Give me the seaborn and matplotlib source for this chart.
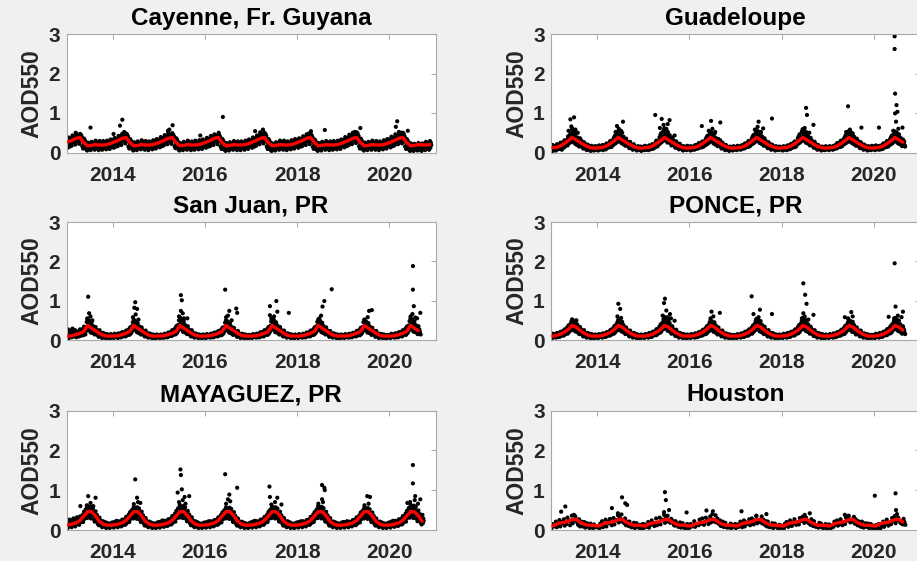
import numpy as np
import pandas as pd
import matplotlib
matplotlib.use("Agg")
import matplotlib.pyplot as plt
import seaborn as sns

# ---------------- data ----------------
TITLES = ["Cayenne, Fr. Guyana", "Guadeloupe", "San Juan, PR", "PONCE, PR", "MAYAGUEZ, PR", "Houston"]
XTICKS = [2014, 2016, 2018, 2020]
YTICKS = [0, 1, 2, 3]

# monthly climatology (red curve), Jan..Dec
CLIM_CAYENNE = [0.27, 0.31, 0.36, 0.38, 0.25, 0.17, 0.18, 0.20, 0.19, 0.19, 0.20, 0.23]
CLIM_GUADELOUPE = [0.12, 0.13, 0.17, 0.23, 0.30, 0.38, 0.32, 0.26, 0.20, 0.15, 0.12, 0.11]
CLIM_SANJUAN = [0.10, 0.11, 0.14, 0.17, 0.22, 0.37, 0.30, 0.24, 0.17, 0.12, 0.10, 0.10]
CLIM_PONCE = [0.10, 0.12, 0.15, 0.20, 0.27, 0.37, 0.33, 0.25, 0.18, 0.13, 0.10, 0.10]
CLIM_MAYAGUEZ = [0.13, 0.15, 0.18, 0.24, 0.35, 0.46, 0.46, 0.36, 0.22, 0.15, 0.12, 0.12]
CLIM_HOUSTON = [0.10, 0.15, 0.18, 0.19, 0.22, 0.26, 0.27, 0.20, 0.15, 0.12, 0.12, 0.11]
CLIM_MONTHS = [95, 92, 92, 92, 93, 92]      # months drawn for each red curve

# AOD550 x100; one row per year 2013..2020; "-" = no observation
SAMPLES_PER_YEAR = [104, 104, 104, 104, 104, 52]

AOD_CAYENNE = """
18 31 12 26 38 21 34 15 29  22 36 17 30 43 25 39 28  26 41 20 35 48 29 44 31 38  28 43 22 37 47 30 45 33 40  16 29 10 24 35 18 31 13 26  8 19 5 14 25 10 21 16  9 21 6 15 27 11 23 17 13  11 24 7 18 30 13 26 19 15  10 22 6 17 29 12 25 19  10 23 7 17 29 12 24 19 14  11 24 8 18 30 13 26 20  14 28 9 21 33 16 29 23 18
17 31 12 25 37 20 33 15 28  21 35 16 29 42 24 38 27  25 40 19 34 47 28 43 30 37  29 44 23 38 48 31 46 34 41  15 28 10 23 34 17 30 12 25  9 20 5 15 26 11 22 17  10 22 6 16 28 12 24 18 14  12 25 8 19 31 14 27 20 16  11 23 7 18 29 13 25 19  10 22 6 17 28 12 24 18 14  12 25 8 19 31 14 27 21  15 29 10 22 34 17 30 24 19
19 32 13 27 39 22 35 16 30  23 37 18 31 44 26 40 29  27 42 21 36 50 30 46 33 39  28 44 22 37 49 31 45 34 41  16 30 11 25 36 19 32 14 27  8 18 5 13 24 10 20 15  10 21 6 16 27 12 23 17 13  11 24 7 18 30 13 26 19 15  10 23 6 17 28 12 25 18  11 24 7 18 30 13 25 20 15  12 25 8 19 31 14 26 21  14 28 9 21 33 16 29 23 18
18 30 12 25 37 21 33 15 28  21 35 16 29 42 24 38 27  25 39 19 34 46 28 42 30 37  27 42 21 36 46 29 44 32 39  15 28 9 23 34 17 30 12 25  7 18 4 13 24 9 20 15  9 20 5 15 26 11 22 16 12  11 23 7 17 29 13 25 18 14  10 22 6 16 28 12 24 18  10 22 6 17 28 12 24 18 14  11 24 7 18 30 13 26 20  14 27 9 21 33 16 29 22 18
18 31 12 26 38 21 34 15 29  22 36 17 30 43 25 39 28  27 42 21 36 51 30 46 33 40  29 45 23 39 50 32 47 35 42  15 28 9 23 34 17 30 12 25  6 17 4 12 23 9 19 14  8 20 5 14 26 10 22 16 12  11 24 7 18 30 13 26 19 15  11 23 7 18 30 13 25 19  10 22 6 16 28 12 24 18 14  12 25 8 19 31 14 27 21  15 28 10 22 34 17 30 23 19
17 30 12 25 36 20 33 15 28  21 34 16 28 41 24 37 27  25 39 19 33 46 28 42 30 36  27 43 21 36 47 30 44 32 39  14 27 9 22 33 16 29 12 24  7 18 4 13 24 9 20 15  9 21 5 15 27 11 23 17 13  11 23 7 17 29 13 25 18 14  10 22 6 17 28 12 24 18  10 23 7 17 29 12 24 19 14  11 24 8 18 30 13 26 20  14 28 9 21 33 16 29 23 18
19 32 13 27 39 22 35 16 30  23 37 18 31 45 26 41 29  27 42 21 36 50 30 45 32 39  30 46 24 39 51 32 48 35 42  16 29 10 24 35 18 31 13 26  8 19 5 14 25 10 21 16  9 21 6 15 27 11 23 17 13  11 24 7 18 30 13 26 19 15  11 23 7 18 29 13 25 19  10 22 6 17 28 12 24 18 14  12 25 8 19 31 14 27 21  15 29 10 22 34 17 31 24 19
19 33 13 27 40 22 36 16 30  23 38 18 32 46 26 42 29  27 43 21 37 52 30 47 33 40  29 45 23 38 50 31 47 34 41  15 28 9 23 34 17 30 12 25  7 17 4 12 23 9 19 14  6 16 4 11 22 8 18 13 10  8 19 5 13 24 10 21 15 12  7 18 4 12 23 9 20 14  9 21 6 15 27 11 23 17 13  10 23 7 17 29 12 25 19
"""

AOD_GUADELOUPE = """
6 14 9 19 4 11 16 8 13  10 17 5 13 21 8 12 15  12 20 9 16 25 11 18 7 14  17 26 12 22 31 15 24 19 28  22 33 18 41 27 36 24 45 30  31 49 26 58 38 44 29 52  27 41 22 35 48 30 19 38 26  21 32 15 27 36 19 24 30 17  14 23 10 19 26 12 17 21  9 16 6 13 20 8 11 17 10  7 13 4 10 17 9 12 6  8 14 5 11 16 7 12 9 15
9 15 5 12 18 7 13 10 16  8 14 11 19 6 12 16 9  13 19 8 16 23 11 17 14 21  16 24 13 29 19 22 14 27 18  25 34 20 39 28 43 23 31 36  33 47 27 54 39 30 45 36  29 42 24 37 50 31 21 40 33  22 30 17 26 35 20 28 18 24  15 22 11 18 27 13 20 16  10 17 7 14 21 9 12 16 11  8 12 5 14 10 16 7 11  7 13 9 15 4 11 14 8 12
10 14 6 17 9 12 15 7 11  9 15 6 12 18 10 13 8  12 18 9 21 14 16 10 19 13  18 25 14 30 20 23 16 28 21  27 38 22 44 31 49 26 35 40  36 55 30 61 42 48 33 57  31 46 25 52 36 41 28 44 34  23 33 18 29 38 21 26 31 19  16 24 12 20 28 14 19 22  11 18 8 15 22 10 13 17 12  8 13 5 11 16 9 12 7  9 14 6 12 17 8 11 15 10
8 13 5 16 10 12 7 14 11  10 16 7 13 19 9 12 15  13 20 10 17 24 12 18 15 21  17 25 13 28 20 23 15 26 19  24 33 19 38 27 42 22 30 35  31 46 26 52 37 41 29 49  28 40 23 35 47 30 20 37 32  20 29 16 25 34 19 27 22 31  14 21 10 18 25 12 16 20  10 16 6 13 19 8 12 15 9  7 12 4 10 15 8 13 9  8 13 5 11 16 7 10 14 9
9 14 6 12 17 8 11 15 10  10 15 7 13 18 9 12 16  14 20 10 17 23 12 19 15 22  18 26 14 29 21 24 16 27 20  26 35 21 40 29 44 24 33 37  34 50 28 56 40 45 31 53  29 43 24 38 49 32 22 41 34  22 31 17 27 36 20 25 29 18  15 23 11 19 26 13 18 21  10 17 7 14 20 9 12 16 11  8 13 5 11 16 9 12 7  9 14 6 12 15 8 11 13 10
8 13 5 11 16 7 12 10 14  9 15 6 12 18 10 13 8  13 19 9 16 22 11 17 14 20  17 25 13 28 20 23 15 26 19  27 36 22 41 30 46 25 33 38  35 52 29 59 41 47 32 55  30 44 25 39 51 33 23 42 35  23 32 18 28 37 21 26 30 19  16 23 12 19 27 14 18 21  10 16 7 13 19 9 12 15 11  8 12 5 10 15 9 11 7  9 13 6 11 16 8 12 10 14
9 14 6 12 16 8 11 13 10  10 15 7 12 17 9 13 11  14 20 10 17 24 12 18 15 21  19 26 14 30 21 24 16 28 22  26 35 21 39 29 44 24 32 37  33 49 27 54 39 45 30 51  29 42 24 37 48 31 21 40 33  22 31 17 27 35 20 25 29 18  15 22 11 19 26 13 17 21  11 17 7 14 20 9 13 16 10  8 13 5 11 16 9 12 7  9 14 6 12 17 8 11 15 10
10 15 6 13 18 8 12 16 11  9 14 7 12 17 10 13 8  13 19 9 16 23 11 17 14 20  18 25 14 29 20 23 15 27 21  25 34 20 39 28 43 23 31 36  32 47 27 53 38 43 30 50  28 40 23 35 46 30 21 38 31  21 29 16 25 33 19 24 28 18  15
"""

AOD_SANJUAN = """
6 18 9 27 12 5 22 14 8  11 24 7 16 29 9 19 13  9 17 25 12 21 7 14 19 11  13 22 9 18 27 15 11 24 16  16 28 12 23 34 19 26 14 31  29 46 24 53 35 41 27 49  24 38 19 33 45 27 18 36 29  18 29 14 24 33 17 26 21 15  12 21 8 16 25 11 19 14  8 15 5 12 18 9 13 10 16  6 12 4 9 15 8 11 7  7 12 4 10 15 6 11 9 13
7 12 5 10 16 8 13 9 11  8 14 5 11 17 9 12 7  10 16 7 13 20 9 15 12 18  12 20 9 16 24 11 18 14 21  17 27 13 22 32 16 25 19 35  30 45 25 52 36 42 28 48  25 37 20 32 43 26 18 35 28  19 28 14 23 32 17 25 21 15  12 20 9 16 24 11 18 14  8 14 6 11 17 9 13 10 15  7 11 4 9 14 8 12 6  6 11 4 9 14 7 12 8 10
7 11 5 9 14 8 12 10 6  8 13 6 10 16 9 12 7  10 15 7 12 19 9 14 11 17  13 21 10 17 25 12 19 15 22  18 29 14 24 35 17 27 21 38  33 50 27 58 39 46 30 54  27 40 21 35 47 28 19 38 31  20 30 15 25 35 18 27 22 16  13 21 9 17 25 12 19 15  9 14 6 11 17 8 13 10 15  7 11 5 9 14 8 12 6  7 12 5 10 14 6 11 9 13
7 12 5 10 15 8 13 9 11  8 13 6 11 16 9 12 7  10 16 7 13 19 9 15 11 17  12 20 9 16 23 11 18 14 21  16 26 12 21 31 15 24 18 33  29 44 24 50 34 40 27 47  24 36 19 31 42 25 17 34 28  18 27 13 22 31 16 24 20 14  12 19 8 15 23 10 17 13  8 14 5 11 16 9 12 10 15  6 11 4 9 14 7 12 8  7 11 4 9 13 6 12 8 10
7 12 5 10 15 8 13 9 11  8 14 6 11 16 9 12 7  10 16 7 13 20 9 15 12 18  13 21 9 17 25 12 19 15 22  17 28 13 23 33 16 26 20 36  31 47 26 54 37 43 29 51  26 39 20 34 45 27 19 37 30  19 29 14 24 33 17 26 21 15  12 20 9 16 24 11 18 14  9 14 6 11 17 8 13 10 15  7 11 5 9 14 8 12 6  6 11 4 9 14 7 12 8 10
7 12 5 10 15 8 13 9 11  8 13 6 11 16 9 12 7  10 15 7 13 19 9 14 11 17  12 20 9 16 24 11 18 14 21  17 27 13 22 32 16 25 19 35  30 46 25 52 36 42 28 49  25 38 20 33 44 26 18 36 29  19 28 14 23 32 17 25 21 15  12 20 8 16 23 11 18 13  8 14 6 11 17 9 13 10 15  7 11 4 9 14 8 12 6  6 11 4 9 14 7 12 8 10
7 12 5 10 15 8 13 9 11  8 13 6 11 16 9 12 7  9 15 7 12 18 9 14 11 16  12 19 9 16 23 11 17 14 20  16 26 12 21 31 15 24 18 33  29 45 24 51 35 41 27 47  24 37 19 32 43 26 18 35 28  18 27 13 22 31 16 24 20 14  12 19 8 15 23 10 17 13  8 14 5 11 16 9 12 10 15  7 11 4 9 14 8 12 6  6 11 4 9 13 7 12 8 10
7 12 5 10 16 8 13 9 11  8 14 6 11 17 9 12 7  10 16 7 13 20 9 15 12 18  13 21 9 17 25 12 19 15 22  18 29 13 24 34 17 27 21 37  31 48 26 55 37 44 29 52  26 40 21 35 47 28 20 38 31  20 30 15 25 35 18 27 22 16  14
"""

AOD_PONCE = """
6 12 4 10 16 8 13 9 11  9 15 6 12 18 10 14 8  11 17 8 14 21 10 16 13 19  15 23 11 19 27 14 21 17 25  21 32 16 27 37 20 30 24 40  30 46 25 52 36 42 28 49  27 41 22 36 47 29 20 39 32  20 29 15 25 33 18 27 22 16  13 21 9 17 25 12 19 15  9 15 6 12 18 8 14 11 16  7 12 4 9 15 8 13 6  7 12 5 10 14 6 11 9 13
7 13 5 10 15 8 12 9 14  9 14 6 12 17 10 13 8  11 16 8 14 20 10 15 12 18  15 22 11 18 26 13 20 16 24  21 31 16 26 36 19 29 23 39  30 45 25 51 35 41 28 48  27 40 22 35 46 29 20 38 31  20 28 15 24 32 18 26 22 16  13 20 9 16 24 12 18 14  9 15 6 12 18 8 13 10 16  7 11 4 9 14 8 12 6  6 11 4 9 14 7 12 8 10
7 12 5 10 15 8 13 9 11  9 15 6 12 18 10 14 8  12 17 8 14 21 11 16 13 19  16 24 12 20 28 14 22 18 26  23 34 18 29 40 21 32 26 44  34 52 28 59 40 47 31 55  30 45 24 39 51 32 22 43 35  21 31 16 26 35 19 28 23 17  14 22 10 18 26 12 20 15  9 15 6 12 18 9 14 11 16  7 12 5 9 15 8 13 6  7 12 5 10 14 6 11 9 13
7 12 5 10 15 8 13 9 11  8 14 6 11 17 9 13 7  11 16 8 13 20 10 15 12 18  14 22 11 18 26 13 20 16 23  20 30 15 25 35 18 28 22 38  29 44 24 50 34 40 27 47  26 39 21 34 45 28 19 37 30  19 28 14 23 32 17 25 21 15  13 20 9 16 24 11 18 14  9 14 6 11 17 8 13 10 15  6 11 4 9 14 7 12 8  7 11 4 9 13 6 12 8 10
7 12 5 10 15 8 13 9 11  9 14 6 12 17 10 13 8  11 17 8 14 21 10 16 13 19  15 23 11 19 27 14 21 17 25  21 32 16 27 37 20 30 24 41  31 48 26 54 37 43 29 51  28 41 22 36 48 30 20 39 32  20 29 15 25 34 18 27 22 16  13 21 9 17 25 12 19 15  9 15 6 12 18 8 14 11 16  7 12 4 9 14 8 13 6  6 11 4 9 14 7 12 8 10
7 12 5 10 16 8 13 9 11  9 15 6 12 18 10 14 8  12 17 8 14 21 11 16 13 19  15 23 11 19 27 14 21 17 25  22 33 17 28 38 20 31 25 42  32 49 27 56 38 45 30 53  28 42 23 37 49 31 21 40 33  21 30 16 26 34 19 28 23 17  14 21 10 17 25 12 19 15  9 15 6 12 18 9 14 11 16  7 12 5 9 15 8 13 6  6 11 4 9 14 7 12 8 10
7 12 5 10 15 8 13 9 11  8 14 6 11 17 9 13 7  11 16 8 13 20 10 15 12 18  14 22 11 18 26 13 20 16 24  20 31 15 26 36 19 29 23 39  30 45 25 51 35 41 28 48  27 40 21 35 46 29 20 38 31  19 28 14 24 32 17 26 21 15  13 20 9 16 24 11 18 14  9 14 6 11 17 8 13 10 15  6 11 4 9 14 7 12 8  7 11 4 9 13 6 12 8 10
7 13 5 10 16 8 12 9 14  9 15 6 12 18 10 14 8  12 17 8 14 21 11 16 13 19  16 24 12 20 28 14 22 18 26  22 33 17 28 38 20 31 25 43  32 49 27 56 38 45 30 53  28 42 23 37 49 31 21 40 33  21 30 16 26 35 19 28 23 17  15
"""

AOD_MAYAGUEZ = """
8 16 5 13 21 9 26 11 18  10 19 7 15 24 12 29 14  12 21 9 17 27 14 32 16 23  17 28 13 23 34 19 26 21 31  25 38 20 33 46 28 41 30 52  36 53 30 60 44 49 38 57  35 51 29 58 43 47 37 55 41  27 40 21 35 47 30 24 38 33  16 26 12 21 31 15 24 19  10 18 7 14 22 11 17 13 20  8 14 5 11 18 9 15 12  8 14 5 11 17 9 15 12 19
9 16 6 13 20 10 17 12 23  10 18 7 14 22 11 17 13  13 21 9 17 26 12 20 15 24  18 27 13 22 33 17 25 20 30  26 39 20 33 45 28 40 31 50  35 51 29 58 42 47 36 55  34 50 28 57 42 46 36 54 40  26 39 20 34 46 29 23 37 32  16 25 11 20 30 14 23 18  10 17 7 14 21 11 16 13 19  8 13 5 11 17 9 14 12  8 14 5 11 18 9 15 12 20
9 16 6 13 21 10 18 12 24  11 19 8 15 23 12 18 14  14 22 10 18 27 13 21 16 25  19 29 14 24 35 18 27 22 32  27 41 21 35 48 30 43 33 54  38 55 31 63 45 51 39 59  36 53 30 60 44 49 38 57 42  28 41 22 36 48 31 25 39 34  17 27 12 22 32 16 25 20  10 18 7 14 22 11 17 13 20  8 14 5 11 17 9 15 12  8 13 5 11 17 9 14 12 19
9 15 6 13 20 10 17 12 22  10 18 7 14 22 11 17 13  13 20 9 16 25 12 19 15 23  17 27 13 22 32 16 25 20 29  25 38 19 32 44 27 39 30 49  35 50 29 57 42 46 36 54  34 49 28 56 41 45 35 53 39  26 38 20 33 45 29 23 36 31  15 24 11 20 29 14 22 18  10 17 7 13 21 10 16 12 19  8 13 5 10 17 9 14 11  8 14 5 11 17 9 15 12 19
9 16 6 13 21 10 17 12 23  10 18 7 14 22 11 17 13  13 21 9 17 26 12 20 15 24  18 28 13 23 33 17 26 21 30  26 39 20 34 46 28 40 31 51  36 52 30 59 43 48 37 56  35 50 29 57 42 46 36 54 40  27 39 21 34 46 30 24 37 32  16 25 11 21 30 15 23 19  10 18 7 14 22 11 17 13 20  8 14 5 11 17 9 15 12  8 13 5 11 17 9 14 12 19
9 16 6 13 20 10 17 12 22  10 18 7 14 22 11 17 13  13 20 9 17 25 12 20 15 23  18 27 13 23 33 17 25 20 30  25 39 20 33 45 28 40 31 50  36 53 30 60 43 48 37 57  35 51 29 58 42 47 36 55 41  27 39 21 34 46 30 24 37 32  16 25 11 21 30 15 23 19  10 17 7 14 21 11 16 13 19  8 14 5 11 17 9 15 12  8 14 5 11 18 9 15 12 20
9 15 6 12 20 10 17 12 22  10 17 7 14 21 11 16 13  13 20 9 16 25 12 19 15 23  17 27 12 22 32 16 25 20 29  25 37 19 32 44 27 39 30 48  34 50 29 56 41 46 35 53  33 49 28 55 41 45 35 52 39  26 38 20 33 44 29 23 36 31  15 24 11 20 29 14 22 18  10 17 7 13 21 10 16 12 19  8 13 5 10 17 9 14 11  8 14 5 11 17 9 15 12 19
9 16 6 13 21 10 18 12 23  11 19 8 15 23 12 18 14  14 22 10 18 27 13 21 16 25  19 29 14 24 35 18 27 22 32  27 41 21 35 48 30 43 33 55  38 56 31 64 45 52 39 60  36 54 30 61 44 50 38 58 43  28 42 22 37 49 32 25 40 35  19 30 14 26 38 17 29 23
"""

AOD_HOUSTON = """
4 15 - 9  10 21 7 -  13 25 9 20 -  16 27 11 -  15 31 - 24 12  22 36 17 -  25 34 - 19  13 27 9 - 21  9 - 20 6  7 17 - 12  5 16 10 -  4 14 - 9 7
8 - 4 16  11 22 7 -  12 26 9 - 21  17 28 - 12  19 30 14 - 24  25 37 19 30  27 39 21 -  17 29 12 - 21  10 21 - 7  8 - 18 5  7 17 - 11  5 13 4 - 15
5 14 - 8  9 20 6 -  13 24 - 18 10  15 29 12 -  18 31 14 - 26  24 38 18 31  28 36 21 -  18 28 - 23 13  11 22 15 -  8 - 19 6  8 17 - 5  6 - 15 4 12
6 15 - 9  11 22 8 -  14 - 12 26 18  16 29 - 13  20 31 - 25 15  23 34 19 -  26 - 21 37  19 29 - 15 24  10 - 21 8  8 18 - 6  9 - 6 16  5 13 - 8 15
5 - 14 8  10 21 - 7  13 24 9 - 19  15 - 27 12  17 29 - 14 24  22 35 17 -  24 - 19 34  16 26 - 12 22  9 21 - 7  8 - 17 5  7 16 - 10  5 - 13 4 11
7 - 4 15  11 20 - 8  13 24 - 10 19  16 27 - 13  18 - 14 30 23  23 33 - 18  25 31 - 20  17 - 13 27 21  10 22 - 8  9 - 6 18  8 16 - 5  6 - 15 4 12
5 14 - 4  10 - 8 21  14 - 24 11 19  15 27 - 12  19 - 15 31 24  24 35 - 19  26 - 21 33  16 27 - 12 22  11 - 8 21  9 6 - 17  8 - 16 5  6 15 - 4 11
4 - 12 3  5 15 - 4  10 - 21 8 16  14 26 - 11  18 - 15 30 23  23 35 17 -  25 31 - 20  17 - 14 28 20  13
"""

# higher, isolated values (decimal year, AOD550)
OUT_X_CAYENNE = [2013.20, 2013.52, 2014.02, 2014.16, 2014.21, 2014.25, 2015.20, 2015.23, 2015.30, 2015.90, 2016.30, 2016.39, 2017.09, 2017.20, 2017.26, 2018.25, 2018.30, 2018.60, 2019.25, 2019.37, 2020.14, 2020.17, 2020.25, 2020.40]
OUT_Y_CAYENNE = [0.50, 0.63, 0.47, 0.68, 0.83, 0.52, 0.55, 0.58, 0.69, 0.43, 0.50, 0.90, 0.54, 0.50, 0.58, 0.48, 0.54, 0.57, 0.52, 0.62, 0.65, 0.79, 0.50, 0.55]
OUT_X_GUADELOUPE = [2013.38, 2013.42, 2013.44, 2013.46, 2013.50, 2013.53, 2013.58, 2014.40, 2014.43, 2014.47, 2014.52, 2014.56, 2015.26, 2015.36, 2015.40, 2015.44, 2015.50, 2015.53, 2015.57, 2015.68, 2016.27, 2016.42, 2016.47, 2016.50, 2016.56, 2016.67, 2017.42, 2017.48, 2017.50, 2017.55, 2017.60, 2017.79, 2018.45, 2018.50, 2018.53, 2018.55, 2018.60, 2018.69, 2019.40, 2019.44, 2019.48, 2019.52, 2019.73, 2020.11, 2020.42, 2020.45, 2020.45, 2020.46, 2020.46, 2020.48, 2020.49, 2020.51, 2020.53, 2020.62]
OUT_Y_GUADELOUPE = [0.55, 0.84, 0.66, 0.61, 0.89, 0.58, 0.50, 0.52, 0.67, 0.60, 0.55, 0.78, 0.95, 0.62, 0.85, 0.70, 0.60, 0.72, 0.82, 0.43, 0.67, 0.55, 0.80, 0.60, 0.52, 0.76, 0.58, 0.65, 0.78, 0.52, 0.61, 0.86, 0.55, 0.62, 1.13, 0.95, 0.50, 0.70, 0.52, 1.17, 0.58, 0.50, 0.63, 0.63, 0.55, 2.94, 2.62, 1.49, 0.99, 0.78, 1.20, 1.03, 0.60, 0.63]
OUT_X_SANJUAN = [2013.45, 2013.47, 2013.49, 2013.52, 2013.56, 2014.44, 2014.47, 2014.49, 2014.50, 2014.53, 2014.56, 2015.44, 2015.48, 2015.48, 2015.50, 2015.52, 2015.55, 2015.62, 2016.44, 2016.46, 2016.50, 2016.53, 2016.58, 2016.68, 2016.70, 2017.41, 2017.41, 2017.44, 2017.50, 2017.55, 2017.57, 2017.82, 2018.48, 2018.52, 2018.55, 2018.59, 2018.75, 2019.46, 2019.53, 2019.56, 2019.62, 2020.46, 2020.50, 2020.51, 2020.51, 2020.53, 2020.56, 2020.60, 2020.67]
OUT_Y_SANJUAN = [0.55, 1.10, 0.68, 0.60, 0.50, 0.58, 0.82, 0.96, 0.65, 0.79, 0.52, 0.60, 1.14, 0.74, 1.01, 0.68, 0.55, 0.55, 1.28, 0.58, 0.62, 0.74, 0.50, 0.80, 0.69, 0.86, 0.63, 0.55, 0.60, 0.99, 0.72, 0.69, 0.55, 0.62, 0.85, 0.99, 1.29, 0.52, 0.58, 0.74, 0.76, 0.60, 0.66, 1.88, 1.28, 0.86, 0.57, 0.55, 0.69]
OUT_X_PONCE = [2013.46, 2013.55, 2014.44, 2014.46, 2014.50, 2014.52, 2015.42, 2015.45, 2015.47, 2015.50, 2015.53, 2015.58, 2015.60, 2015.68, 2016.46, 2016.48, 2016.52, 2016.66, 2017.35, 2017.39, 2017.45, 2017.50, 2017.53, 2017.79, 2018.44, 2018.47, 2018.47, 2018.50, 2018.51, 2018.54, 2018.58, 2018.69, 2019.37, 2019.44, 2019.51, 2019.54, 2020.32, 2020.44, 2020.45, 2020.47, 2020.52, 2020.60, 2020.63]
OUT_Y_PONCE = [0.52, 0.50, 0.60, 0.92, 0.79, 0.56, 0.62, 0.94, 1.05, 0.75, 0.58, 0.66, 0.55, 0.49, 0.55, 0.72, 0.60, 0.69, 1.11, 0.66, 0.52, 0.58, 0.77, 0.66, 0.55, 1.44, 0.68, 0.60, 1.15, 0.92, 0.52, 0.64, 0.58, 0.55, 0.71, 0.60, 0.59, 0.55, 1.95, 0.85, 0.62, 0.58, 0.72]
OUT_X_MAYAGUEZ = [2013.30, 2013.44, 2013.47, 2013.52, 2013.58, 2013.63, 2014.46, 2014.49, 2014.53, 2014.55, 2014.60, 2015.41, 2015.44, 2015.47, 2015.48, 2015.50, 2015.52, 2015.56, 2015.58, 2015.66, 2016.44, 2016.46, 2016.50, 2016.53, 2016.55, 2016.70, 2017.40, 2017.41, 2017.44, 2017.52, 2017.57, 2017.66, 2018.46, 2018.54, 2018.54, 2018.56, 2018.59, 2018.60, 2019.46, 2019.52, 2019.55, 2019.58, 2020.39, 2020.45, 2020.51, 2020.51, 2020.55, 2020.56, 2020.62, 2020.67]
OUT_Y_MAYAGUEZ = [0.60, 0.62, 0.85, 0.68, 0.60, 0.81, 0.65, 1.27, 0.81, 0.70, 0.68, 0.94, 0.70, 1.52, 1.38, 1.02, 0.75, 0.83, 0.66, 0.85, 1.40, 0.66, 0.77, 0.89, 0.72, 1.06, 1.09, 0.83, 0.64, 0.70, 0.81, 0.64, 0.66, 1.13, 0.77, 0.70, 1.06, 1.00, 0.62, 0.85, 0.66, 0.83, 0.68, 0.70, 1.63, 1.17, 0.75, 0.85, 0.66, 0.77]
OUT_X_HOUSTON = [2013.22, 2013.31, 2013.50, 2014.32, 2014.45, 2014.54, 2014.61, 2014.65, 2015.45, 2015.47, 2015.49, 2015.56, 2015.94, 2016.37, 2016.50, 2016.51, 2017.13, 2017.45, 2017.67, 2018.50, 2018.61, 2019.37, 2019.45, 2020.02, 2020.47, 2020.48, 2020.50]
OUT_Y_HOUSTON = [0.46, 0.59, 0.38, 0.55, 0.42, 0.82, 0.67, 0.63, 0.45, 0.95, 0.75, 0.50, 0.44, 0.49, 0.40, 0.47, 0.47, 0.36, 0.40, 0.38, 0.42, 0.38, 0.36, 0.86, 0.92, 0.50, 0.40]

SERIES = [AOD_CAYENNE, AOD_GUADELOUPE, AOD_SANJUAN, AOD_PONCE, AOD_MAYAGUEZ, AOD_HOUSTON]
CLIMS = [CLIM_CAYENNE, CLIM_GUADELOUPE, CLIM_SANJUAN, CLIM_PONCE, CLIM_MAYAGUEZ, CLIM_HOUSTON]
OUTX = [OUT_X_CAYENNE, OUT_X_GUADELOUPE, OUT_X_SANJUAN, OUT_X_PONCE, OUT_X_MAYAGUEZ, OUT_X_HOUSTON]
OUTY = [OUT_Y_CAYENNE, OUT_Y_GUADELOUPE, OUT_Y_SANJUAN, OUT_Y_PONCE, OUT_Y_MAYAGUEZ, OUT_Y_HOUSTON]


def series_frame(text, per_year):
    xs, ys = [], []
    for i, line in enumerate(text.strip().splitlines()):
        for k, tok in enumerate(line.split()):
            if tok == "-":
                continue
            xs.append(2013 + i + (k + 0.5) / per_year)
            ys.append(float(tok) / 100.0)
    return pd.DataFrame({"t": xs, "aod": ys})


def clim_frame(clim, nmonths):
    t = [2013 + m // 12 + ((m % 12) + 0.5) / 12.0 for m in range(nmonths)]
    v = [clim[m % 12] for m in range(nmonths)]
    return pd.DataFrame({"t": t, "aod": v})


# ---------------- style ----------------
sns.set_theme(style="white")
plt.rcParams["font.family"] = ["Liberation Sans", "DejaVu Sans"]
plt.rcParams["font.weight"] = "bold"

BG = "#f0f0f0"
SPINE = "#a8a8a8"
TXT = "#262626"

fig = plt.figure(figsize=(9.17, 5.61), dpi=100, facecolor=BG)

W, H = 917.0, 561.0
col_left = [66.5, 551.0]
col_w = 369.0
rows = [(34.0, 152.5), (222.0, 340.0), (410.5, 530.0)]

for idx in range(6):
    r, c = divmod(idx, 2)
    top, bot = rows[r]
    ax = fig.add_axes([col_left[c] / W, 1 - bot / H, col_w / W, (bot - top) / H])
    ax.set_facecolor("white")

    df = series_frame(SERIES[idx], SAMPLES_PER_YEAR[idx])
    out = pd.DataFrame({"t": OUTX[idx], "aod": OUTY[idx]})
    pts = pd.concat([df, out], ignore_index=True)
    sns.scatterplot(data=pts, x="t", y="aod", ax=ax, color="black", s=9,
                    linewidth=0, edgecolor="none", zorder=2)
    cf = clim_frame(CLIMS[idx], CLIM_MONTHS[idx])
    sns.lineplot(data=cf, x="t", y="aod", ax=ax, color="red", lw=2.4, zorder=3)

    ax.set_xlim(2013, 2021)
    ax.set_ylim(0, 3)
    ax.set_xticks(XTICKS)
    ax.set_xticklabels([str(v) for v in XTICKS])
    ax.set_yticks(YTICKS)
    ax.set_yticklabels([str(v) for v in YTICKS])
    ax.tick_params(direction="in", top=True, right=True, length=3.5, width=0.7,
                   color=SPINE, labelsize=15, labelcolor=TXT)
    ax.tick_params(axis="x", pad=9.5)
    ax.tick_params(axis="y", pad=4.5)
    for lab in ax.get_xticklabels() + ax.get_yticklabels():
        lab.set_fontweight("bold")
    for sp in ax.spines.values():
        sp.set_color(SPINE)
        sp.set_linewidth(0.8)
    ax.set_xlabel("")
    ax.set_ylabel("AOD550", fontsize=16.5, fontweight="bold", color=TXT, labelpad=3.5)
    ax.set_title(TITLES[idx], fontsize=17.5, fontweight="bold", color="black", pad=6.5)

fig.savefig("out.png", dpi=100, facecolor=BG)
